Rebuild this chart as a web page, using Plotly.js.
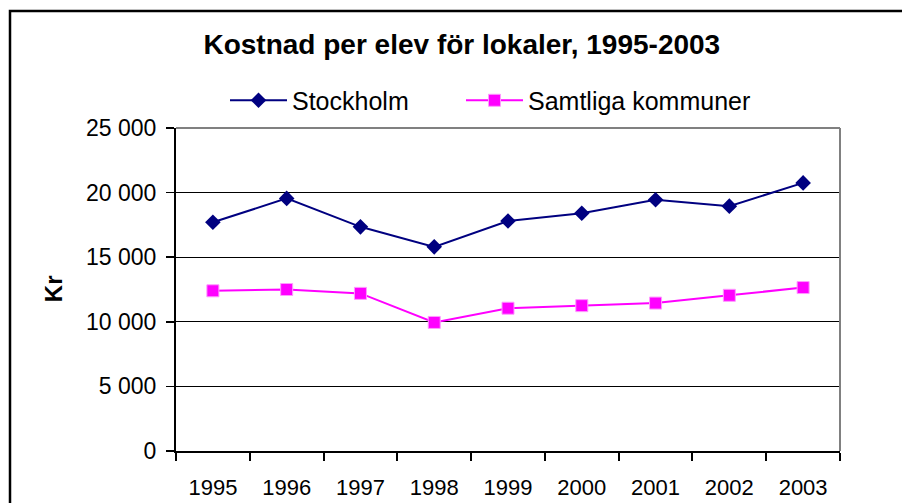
<!DOCTYPE html>
<html>
<head>
<meta charset="utf-8">
<script src="https://cdn.plot.ly/plotly-3.0.1.min.js"></script>
<style>html,body{margin:0;padding:0;background:#fff;}#chart{width:902px;height:503px;}</style>
</head>
<body>
<div id="chart"></div>
<script>
const years = ["1995","1996","1997","1998","1999","2000","2001","2002","2003"];
const stockholm = [17700, 19550, 17350, 15800, 17800, 18400, 19450, 18950, 20750];
const samtliga = [12400, 12500, 12200, 9950, 11050, 11250, 11450, 12050, 12650];
const yTicks = [0, 5000, 10000, 15000, 20000, 25000];

const font = "Liberation Sans, Arial, sans-serif";

const traces = [
  {
    x: years, y: stockholm, name: "Stockholm", type: "scatter", mode: "lines+markers",
    line: {color: "#000080", width: 2},
    marker: {symbol: "diamond", size: 12, color: "#000080"},
    legend: "legend"
  },
  {
    x: years, y: samtliga, name: "Samtliga kommuner", type: "scatter", mode: "lines+markers",
    line: {color: "#FF00FF", width: 2},
    marker: {symbol: "square", size: 12, color: "#FF00FF", line: {color: "#FF99FF", width: 1}},
    legend: "legend2"
  }
];

const legendBase = {
  orientation: "h", y: 1.085, yanchor: "middle", xanchor: "left",
  font: {family: font, size: 25, color: "#000"},
  itemwidth: 57, bgcolor: "rgba(0,0,0,0)"
};

const layout = {
  width: 902, height: 503,
  paper_bgcolor: "#fff", plot_bgcolor: "#fff",
  margin: {l: 176, r: 62, t: 128, b: 52},
  separators: ", ",
  font: {family: font, color: "#000", size: 22},
  showlegend: true,
  title: {
    text: "<b>Kostnad per elev för lokaler, 1995-2003</b>",
    font: {family: font, size: 28, color: "#000"},
    x: 0.512, xref: "container", xanchor: "center",
    y: 0.912, yref: "container", yanchor: "middle"
  },
  legend: Object.assign({}, legendBase, {x: 0.0738}),
  legend2: Object.assign({}, legendBase, {x: 0.4292}),
  xaxis: {
    type: "category", range: [-0.5, 8.5],
    showgrid: false, zeroline: false,
    showline: true, linecolor: "#000", linewidth: 2,
    ticks: "outside", tickson: "boundaries", ticklen: 8, tickwidth: 2, tickcolor: "#000",
    ticklabelstandoff: 16,
    tickfont: {family: font, size: 22, color: "#000"},
    fixedrange: true
  },
  yaxis: {
    range: [0, 25000], tickvals: yTicks, tickformat: ",d",
    showgrid: true, gridcolor: "#000", gridwidth: 1,
    zeroline: false,
    showline: true, linecolor: "#000", linewidth: 2,
    ticks: "outside", ticklen: 8, tickwidth: 1.5, tickcolor: "#000",
    ticklabelstandoff: 5,
    tickfont: {family: font, size: 23, color: "#000"},
    automargin: false,
    fixedrange: true
  },
  annotations: [
    {text: "<b>Kr</b>", xref: "paper", yref: "paper", x: -0.185, y: 0.5015,
     xanchor: "center", yanchor: "middle", textangle: -90, showarrow: false,
     font: {family: font, size: 24, color: "#000"}}
  ],
  shapes: [
    {type: "line", xref: "paper", yref: "paper", x0: 0, x1: 1, y0: 1, y1: 1,
     line: {color: "#808080", width: 2}, layer: "above"},
    {type: "line", xref: "paper", yref: "paper", x0: 1, x1: 1, y0: 0, y1: 1,
     line: {color: "#808080", width: 2}, layer: "above"},
    {type: "rect", xref: "paper", yref: "paper", x0: -0.25, x1: 1.3, y0: -0.5, y1: 1.362,
     line: {color: "#000", width: 2.5}, fillcolor: "rgba(0,0,0,0)", layer: "above"}
  ]
};

Plotly.newPlot("chart", traces, layout, {displayModeBar: false, staticPlot: true});
</script>
</body>
</html>
